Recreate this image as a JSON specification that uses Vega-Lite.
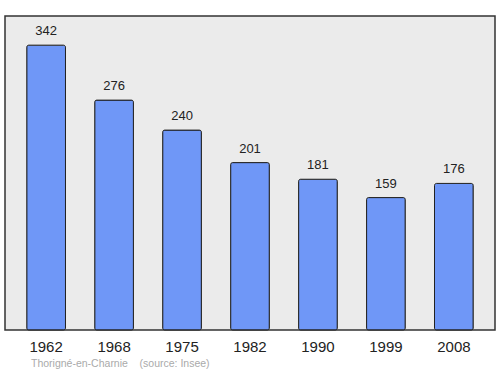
{
  "$schema": "https://vega.github.io/schema/vega-lite/v6.json",
  "width": 490,
  "height": 314,
  "autosize": "none",
  "padding": {"left": 5, "top": 16, "right": 5, "bottom": 44},
  "background": "white",
  "config": {
    "view": {"fill": "#ebebeb", "stroke": "#333333", "strokeWidth": 1.5},
    "font": "Liberation Sans"
  },
  "title": {
    "text": "Thorigné-en-Charnie\u00a0\u00a0\u00a0\u00a0(source: Insee)",
    "orient": "bottom",
    "anchor": "start",
    "dx": 26,
    "offset": 5,
    "fontSize": 10.5,
    "fontWeight": "normal",
    "color": "#aaaaaa",
    "font": "Liberation Sans"
  },
  "data": {
    "values": [
      {"year": "1962", "pop": 342},
      {"year": "1968", "pop": 276},
      {"year": "1975", "pop": 240},
      {"year": "1982", "pop": 201},
      {"year": "1990", "pop": 181},
      {"year": "1999", "pop": 159},
      {"year": "2008", "pop": 176}
    ]
  },
  "encoding": {
    "x": {
      "field": "year", "type": "nominal", "sort": null,
      "scale": {"paddingInner": 0.43, "paddingOuter": 0.32},
      "axis": {"title": null, "labelAngle": 0, "ticks": false, "domain": false, "labelFontSize": 15, "labelColor": "#222222", "labelPadding": 9, "grid": false}
    },
    "y": {
      "field": "pop", "type": "quantitative",
      "scale": {"domain": [0, 377], "nice": false},
      "axis": null
    }
  },
  "layer": [
    {"mark": {"type": "bar", "fill": "#6f97f7", "stroke": "#222222", "strokeWidth": 1, "cornerRadius": 2}},
    {"mark": {"type": "text", "dy": -14, "fontSize": 13, "color": "#222222", "baseline": "middle"}, "encoding": {"text": {"field": "pop", "type": "quantitative"}}}
  ]
}
